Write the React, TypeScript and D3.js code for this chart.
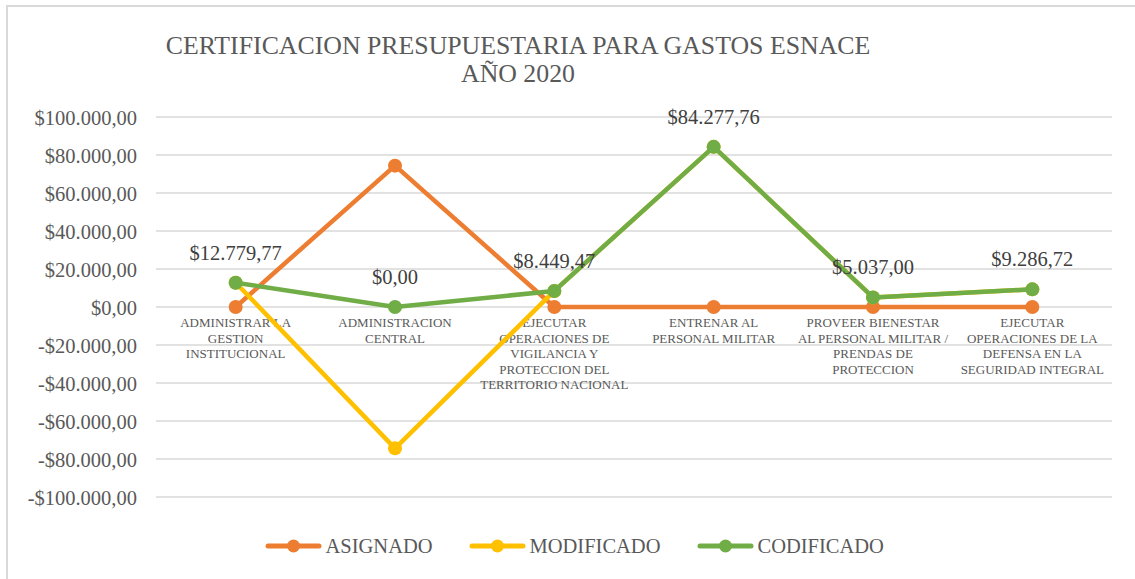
import * as d3 from 'd3';

const categories = [
  'ADMINISTRAR LA GESTION INSTITUCIONAL',
  'ADMINISTRACION CENTRAL',
  'EJECUTAR OPERACIONES DE VIGILANCIA Y PROTECCION DEL TERRITORIO NACIONAL',
  'ENTRENAR AL PERSONAL MILITAR',
  'PROVEER BIENESTAR AL PERSONAL MILITAR / PRENDAS DE PROTECCION',
  'EJECUTAR OPERACIONES DE LA DEFENSA EN LA SEGURIDAD INTEGRAL',
];
// tick labels as wrapped in the picture
const categoryLines = [
  ['ADMINISTRAR LA', 'GESTION', 'INSTITUCIONAL'],
  ['ADMINISTRACION', 'CENTRAL'],
  ['EJECUTAR', 'OPERACIONES DE', 'VIGILANCIA Y', 'PROTECCION DEL', 'TERRITORIO NACIONAL'],
  ['ENTRENAR AL', 'PERSONAL MILITAR'],
  ['PROVEER BIENESTAR', 'AL PERSONAL MILITAR /', 'PRENDAS DE', 'PROTECCION'],
  ['EJECUTAR', 'OPERACIONES DE LA', 'DEFENSA EN LA', 'SEGURIDAD INTEGRAL'],
];
const asignado = [0, 74400, 0, 0, 0, 0];
const modificado = [12779.77, -74400, 8449.47, 84277.76, 5037.0, 9286.72];
const codificado = [12779.77, 0, 8449.47, 84277.76, 5037.0, 9286.72];
const yTicks = [-100000, -80000, -60000, -40000, -20000, 0, 20000, 40000, 60000, 80000, 100000];
const seriesNames = ['ASIGNADO', 'MODIFICADO', 'CODIFICADO'];
const colors = ['#ED7D31', '#FFC000', '#70AD47'];
const titleLines = ['CERTIFICACION PRESUPUESTARIA PARA GASTOS ESNACE', 'AÑO 2020'];

const [width, height] = [1135, 579];
const font = "'Liberation Serif', serif";
const textColor = '#595959';

const fmt = (v: number) => {
  const neg = v < 0;
  const s = Math.abs(v).toFixed(2).split('.');
  const int = s[0].replace(/\B(?=(\d{3})+(?!\d))/g, '.');
  return (neg ? '-' : '') + '$' + int + ',' + s[1];
};

/** Scales */
const x = d3.scaleBand<string>().domain(categories).range([156, 1112]);
const y = d3.scaleLinear().domain([-100000, 100000]).range([497, 117]);
const cx = (i: number) => (x(categories[i]) as number) + x.bandwidth() / 2;
const line = d3.line<number>().x((_, i) => cx(i)).y((d) => y(d));

export default function App() {
  const allSeries = [asignado, modificado, codificado];
  const legX = [266, 470, 698];
  return (
    <svg width={width} height={height}
      style={{ position: 'absolute', left: 0, top: 0, background: 'white', fontFamily: font }}>
      {/* frame */}
      <rect x={7} y={6} width={width + 10} height={height + 10} fill="white" stroke="#d9d9d9" strokeWidth={2} />

      {/* title */}
      <text textAnchor="middle" fontSize={25.8} fill={textColor} style={{ fontFamily: font }}>
        {titleLines.map((t, i) => (
          <tspan key={i} x={518} y={53.5 + i * 28}>{t}</tspan>
        ))}
      </text>

      {/* grid + y axis */}
      {yTicks.map((t) => (
        <g key={t}>
          <line x1={156} x2={1112} y1={y(t)} y2={y(t)} stroke="#d9d9d9" strokeWidth={1.5} />
          <text x={137} y={y(t) + 7.5} textAnchor="end" fontSize={20.5} fill={textColor}
            style={{ fontFamily: font }}>{fmt(t)}</text>
        </g>
      ))}

      {/* category labels */}
      {categories.map((c, i) => (
        <text key={c} textAnchor="middle" fontSize={13} fill={textColor} style={{ fontFamily: font }}>
          {categoryLines[i].map((l, j) => (
            <tspan key={j} x={cx(i)} y={327 + j * 15.6}>{l}</tspan>
          ))}
        </text>
      ))}

      {/* series */}
      {allSeries.map((s, k) => (
        <g key={k}>
          <path d={line(s) || ''} fill="none" stroke={colors[k]} strokeWidth={4.5} strokeLinejoin="round" />
          {s.map((d, i) => (
            <circle key={i} cx={cx(i)} cy={y(d)} r={7} fill={colors[k]} />
          ))}
        </g>
      ))}

      {/* data labels for CODIFICADO */}
      {codificado.map((d, i) => (
        <text key={i} x={cx(i)} y={y(d) - 23} textAnchor="middle" fontSize={20.5} fill="#404040"
          style={{ fontFamily: font }}>{fmt(d)}</text>
      ))}

      {/* legend */}
      {seriesNames.map((name, k) => (
        <g key={name} transform={`translate(${legX[k]},546)`}>
          <line x1={2} x2={53} stroke={colors[k]} strokeWidth={5} strokeLinecap="round" />
          <circle cx={27.5} r={6.5} fill={colors[k]} />
          <text x={59.5} y={6.5} fontSize={20.5} fill={textColor} style={{ fontFamily: font }}>{name}</text>
        </g>
      ))}
    </svg>
  );
}
